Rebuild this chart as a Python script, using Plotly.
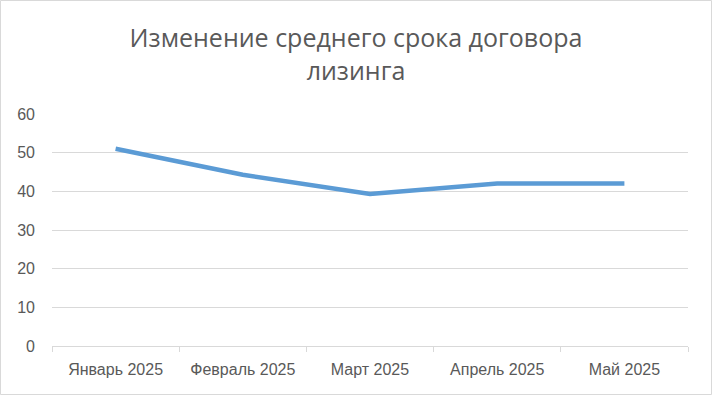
import plotly.graph_objects as go

categories = ["Январь 2025", "Февраль 2025", "Март 2025", "Апрель 2025", "Май 2025"]
values = [51.0, 44.3, 39.3, 42.0, 42.0]
y_ticks = [0, 10, 20, 30, 40, 50, 60]
title_text = "Изменение среднего срока договора<br>лизинга"

W, H = 712, 395
L, R, T, B = 52, 24, 114, 49
pw, ph = W - L - R, H - T - B

fig = go.Figure()
fig.add_trace(go.Scatter(
    x=categories, y=values, mode="lines",
    line=dict(color="#5b9bd5", width=4.5),
    hoverinfo="x+y",
))

fig.update_layout(
    width=W, height=H,
    margin=dict(l=L, r=R, t=T, b=B),
    paper_bgcolor="white", plot_bgcolor="white",
    showlegend=False,
    title=dict(text=title_text, x=0.5, xanchor="center", y=1 - 47 / H, yanchor="middle",
               font=dict(family="Open Sans", size=25, color="#595959")),
    xaxis=dict(type="category", range=[-0.5, 4.5], showgrid=False,
               showline=True, linecolor="#d9d9d9", linewidth=1,
               ticks="outside", tickson="boundaries", ticklen=5, tickcolor="#d9d9d9",
               tickfont=dict(family="Liberation Sans", size=16, color="#595959"),
               ticklabelstandoff=9, fixedrange=True),
    yaxis=dict(range=[0, 60], tickvals=y_ticks, showgrid=True, gridcolor="#d9d9d9",
               gridwidth=1, zeroline=False, showline=False, ticks="",
               tickfont=dict(family="Liberation Sans", size=16, color="#595959"),
               ticklabelstandoff=16, fixedrange=True),
    shapes=[dict(type="rect", xref="paper", yref="paper",
                 x0=(0.5 - L) / pw, x1=(W - 0.5 - L) / pw,
                 y0=-(B - 0.5) / ph, y1=(H - B - 0.5) / ph,
                 line=dict(color="#d9d9d9", width=1), fillcolor="rgba(0,0,0,0)", layer="below")],
)

fig.write_html("out.html", config={"displayModeBar": False},
               post_script="document.body.style.margin='0';")
